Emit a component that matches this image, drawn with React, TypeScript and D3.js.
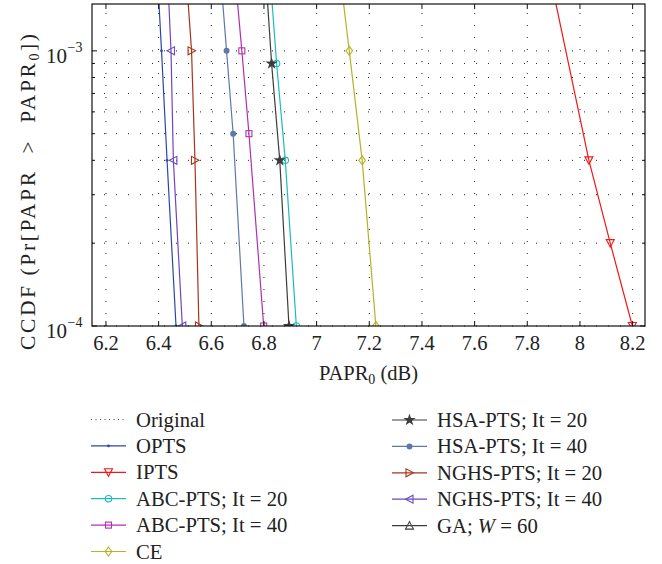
import * as d3 from "d3";

// CCDF curves: PAPR0 (dB) against probability
const optsPapr = [6.394, 6.411, 6.432, 6.466];
const optsCcdf = [2e-3, 1e-3, 4e-4, 1e-4];
const iptsPapr = [7.88, 8.034, 8.115, 8.199];
const iptsCcdf = [2e-3, 4e-4, 2e-4, 1e-4];
const abc20Papr = [6.821, 6.848, 6.881, 6.923];
const abc20Ccdf = [2e-3, 9e-4, 4e-4, 1e-4];
const abc40Papr = [6.688, 6.716, 6.743, 6.799];
const abc40Ccdf = [2e-3, 1e-3, 5e-4, 1e-4];
const cePapr = [7.086, 7.124, 7.173, 7.225];
const ceCcdf = [2e-3, 1e-3, 4e-4, 1e-4];
const hsa20Papr = [6.805, 6.829, 6.86, 6.895];
const hsa20Ccdf = [2e-3, 9e-4, 4e-4, 1e-4];
const hsa40Papr = [6.633, 6.658, 6.683, 6.724];
const hsa40Ccdf = [2e-3, 1e-3, 5e-4, 1e-4];
const nghs20Papr = [6.503, 6.525, 6.538, 6.553];
const nghs20Ccdf = [2e-3, 1e-3, 4e-4, 1e-4];
const nghs40Papr = [6.433, 6.447, 6.456, 6.49];
const nghs40Ccdf = [2e-3, 1e-3, 4e-4, 1e-4];

const xTicks = [6.2, 6.4, 6.6, 6.8, 7, 7.2, 7.4, 7.6, 7.8, 8, 8.2];
const xTickLabels = ["6.2", "6.4", "6.6", "6.8", "7", "7.2", "7.4", "7.6", "7.8", "8", "8.2"];
const yMajor = [1e-4, 1e-3];
const yMajorExp = ["\u22124", "\u22123"];
const yGrid = [1e-4, 2e-4, 3e-4, 4e-4, 5e-4, 6e-4, 7e-4, 8e-4, 9e-4, 1e-3];

const series = [
  { key: "opts", x: optsPapr, y: optsCcdf, color: "#2a48a8", marker: "dot" },
  { key: "ipts", x: iptsPapr, y: iptsCcdf, color: "#f01818", marker: "triDown" },
  { key: "abc20", x: abc20Papr, y: abc20Ccdf, color: "#1cbcbc", marker: "circle" },
  { key: "abc40", x: abc40Papr, y: abc40Ccdf, color: "#b030b0", marker: "square" },
  { key: "ce", x: cePapr, y: ceCcdf, color: "#b4b424", marker: "diamond" },
  { key: "hsa20", x: hsa20Papr, y: hsa20Ccdf, color: "#3c3c3c", marker: "star" },
  { key: "hsa40", x: hsa40Papr, y: hsa40Ccdf, color: "#5e78a8", marker: "fdot" },
  { key: "nghs20", x: nghs20Papr, y: nghs20Ccdf, color: "#a8341c", marker: "triRight" },
  { key: "nghs40", x: nghs40Papr, y: nghs40Ccdf, color: "#6c48c0", marker: "triLeft" },
];

const legendLeft = [
  { label: "Original", color: "#2a48a8", marker: "none", dotted: true },
  { label: "OPTS", color: "#2a48a8", marker: "dot" },
  { label: "IPTS", color: "#f01818", marker: "triDown" },
  { label: "ABC-PTS; It = 20", color: "#1cbcbc", marker: "circle" },
  { label: "ABC-PTS; It = 40", color: "#b030b0", marker: "square" },
  { label: "CE", color: "#b4b424", marker: "diamond" },
];
const legendRight = [
  { label: "HSA-PTS; It = 20", color: "#3c3c3c", marker: "star" },
  { label: "HSA-PTS; It = 40", color: "#5e78a8", marker: "fdot" },
  { label: "NGHS-PTS; It = 20", color: "#a8341c", marker: "triRight" },
  { label: "NGHS-PTS; It = 40", color: "#6c48c0", marker: "triLeft" },
  { label: "GA; W = 60", color: "#3c3c3c", marker: "triUp" },
];

const FONT = "'Liberation Serif', 'Times New Roman', serif";
const left = 92, right = 645, top = 4, bottom = 326;

const starPath = d3.symbol(d3.symbolStar, 48)();

function Marker({ type, cx, cy, color }) {
  const sw = 1.1;
  switch (type) {
    case "dot":
      return <circle cx={cx} cy={cy} r={1.4} fill={color} />;
    case "fdot":
      return <circle cx={cx} cy={cy} r={3} fill={color} />;
    case "circle":
      return <circle cx={cx} cy={cy} r={3.2} fill="none" stroke={color} strokeWidth={sw} />;
    case "square":
      return <rect x={cx - 3} y={cy - 3} width={6} height={6} fill="none" stroke={color} strokeWidth={sw} />;
    case "diamond":
      return <path d={`M${cx},${cy - 4.5}L${cx + 3.3},${cy}L${cx},${cy + 4.5}L${cx - 3.3},${cy}Z`} fill="none" stroke={color} strokeWidth={sw} />;
    case "triDown":
      return <path d={`M${cx - 4},${cy - 3.5}L${cx + 4},${cy - 3.5}L${cx},${cy + 4}Z`} fill="none" stroke={color} strokeWidth={sw} />;
    case "triUp":
      return <path d={`M${cx - 4},${cy + 3.5}L${cx + 4},${cy + 3.5}L${cx},${cy - 4}Z`} fill="none" stroke={color} strokeWidth={sw} />;
    case "triRight":
      return <path d={`M${cx - 3.5},${cy - 4}L${cx - 3.5},${cy + 4}L${cx + 4},${cy}Z`} fill="none" stroke={color} strokeWidth={sw} />;
    case "triLeft":
      return <path d={`M${cx + 3.5},${cy - 4}L${cx + 3.5},${cy + 4}L${cx - 4},${cy}Z`} fill="none" stroke={color} strokeWidth={sw} />;
    case "star":
      return <path d={starPath} transform={`translate(${cx},${cy})`} fill={color} />;
    default:
      return null;
  }
}

function LegendLabel({ text }) {
  if (text.startsWith("GA")) {
    return (
      <>
        GA; <tspan fontStyle="italic">W</tspan> = 60
      </>
    );
  }
  return <>{text}</>;
}

export default function App() {
  const x = d3.scaleLinear([6.147, 8.247], [left, right]);
  const y = d3.scaleLog([1e-4, 1.48e-3], [bottom, top]);
  const line = d3.line<[number, number]>().x((d) => x(d[0])).y((d) => y(d[1]));

  const legendRow = (items, lx0, lx1, tx, y0) =>
    items.map((it, i) => {
      const cy = y0 + i * 26.4;
      return (
        <g key={it.label}>
          <line
            x1={lx0}
            x2={lx1}
            y1={cy}
            y2={cy}
            stroke={it.color}
            strokeWidth={1.2}
            strokeDasharray={it.dotted ? "1 3.5" : undefined}
          />
          <Marker type={it.marker} cx={(lx0 + lx1) / 2} cy={cy} color={it.color} />
          <text x={tx} y={cy + 7} fontSize={20.7} fill="#222">
            <LegendLabel text={it.label} />
          </text>
        </g>
      );
    });

  return (
    <svg
      width={662}
      height={564}
      style={{ position: "absolute", left: 0, top: 0, background: "#fff" }}
      fontFamily={FONT}
    >
      <rect width={662} height={564} fill="#fff" />
      <defs>
        <clipPath id="plot">
          <rect x={left} y={top} width={right - left} height={bottom - top} />
        </clipPath>
      </defs>

      {/* dotted grid */}
      <g stroke="#222" strokeWidth={1} strokeDasharray="1 11">
        {xTicks.map((t) => (
          <line key={t} x1={x(t)} x2={x(t)} y1={bottom} y2={top} />
        ))}
        {yGrid.map((t) => (
          <line key={t} x1={left} x2={right} y1={y(t)} y2={y(t)} />
        ))}
      </g>

      {/* curves */}
      <g clipPath="url(#plot)">
        {series.map((s) => {
          const pts = s.x.map((v, i) => [v, s.y[i]] as [number, number]);
          return (
            <g key={s.key}>
              <path d={line(pts)} fill="none" stroke={s.color} strokeWidth={1.2} />
              {pts.map((p, i) => (
                <Marker key={i} type={s.marker} cx={x(p[0])} cy={y(p[1])} color={s.color} />
              ))}
            </g>
          );
        })}
      </g>

      {/* box and ticks */}
      <rect x={left} y={top} width={right - left} height={bottom - top} fill="none" stroke="#111" strokeWidth={1.2} />
      <g stroke="#111" strokeWidth={1}>
        {xTicks.map((t) => (
          <g key={t}>
            <line x1={x(t)} x2={x(t)} y1={bottom} y2={bottom - 5} />
            <line x1={x(t)} x2={x(t)} y1={top} y2={top + 5} />
          </g>
        ))}
        {yGrid.map((t) => {
          const len = yMajor.includes(t) ? 5 : 3;
          return (
            <g key={t}>
              <line x1={left} x2={left + len} y1={y(t)} y2={y(t)} />
              <line x1={right} x2={right - len} y1={y(t)} y2={y(t)} />
            </g>
          );
        })}
      </g>

      {/* tick labels */}
      <g fontSize={20.5} fill="#222" textAnchor="middle">
        {xTicks.map((t, i) => (
          <text key={t} x={x(t)} y={350}>
            {xTickLabels[i]}
          </text>
        ))}
      </g>
      <g fill="#222">
        {yMajor.map((t, i) => (
          <g key={t}>
            <text x={67} y={y(t) + 12} fontSize={21} textAnchor="end">
              10
            </text>
            <text x={67.5} y={y(t) + 1} fontSize={14}>
              {yMajorExp[i]}
            </text>
          </g>
        ))}
      </g>

      {/* axis titles */}
      <text x={(left + right) / 2} y={380} fontSize={20.5} fill="#222" textAnchor="middle">
        PAPR<tspan fontSize={14} dy={4}>0</tspan>
        <tspan dy={-4}> (dB)</tspan>
      </text>
      <text
        transform={`translate(35,192) rotate(-90)`}
        fontSize={21.5}
        fill="#222"
        textAnchor="middle"
        textLength={316}
        lengthAdjust="spacing"
        style={{ whiteSpace: "pre" }}
      >
        {"CCDF (Pr[PAPR  >  PAPR"}<tspan fontSize={14} dy={4}>0</tspan>
        <tspan dy={-4}>{"])"}</tspan>
      </text>

      {/* legend */}
      {legendRow(legendLeft, 91, 126, 136, 419.5)}
      {legendRow(legendRight, 392, 427, 437, 420)}
    </svg>
  );
}
